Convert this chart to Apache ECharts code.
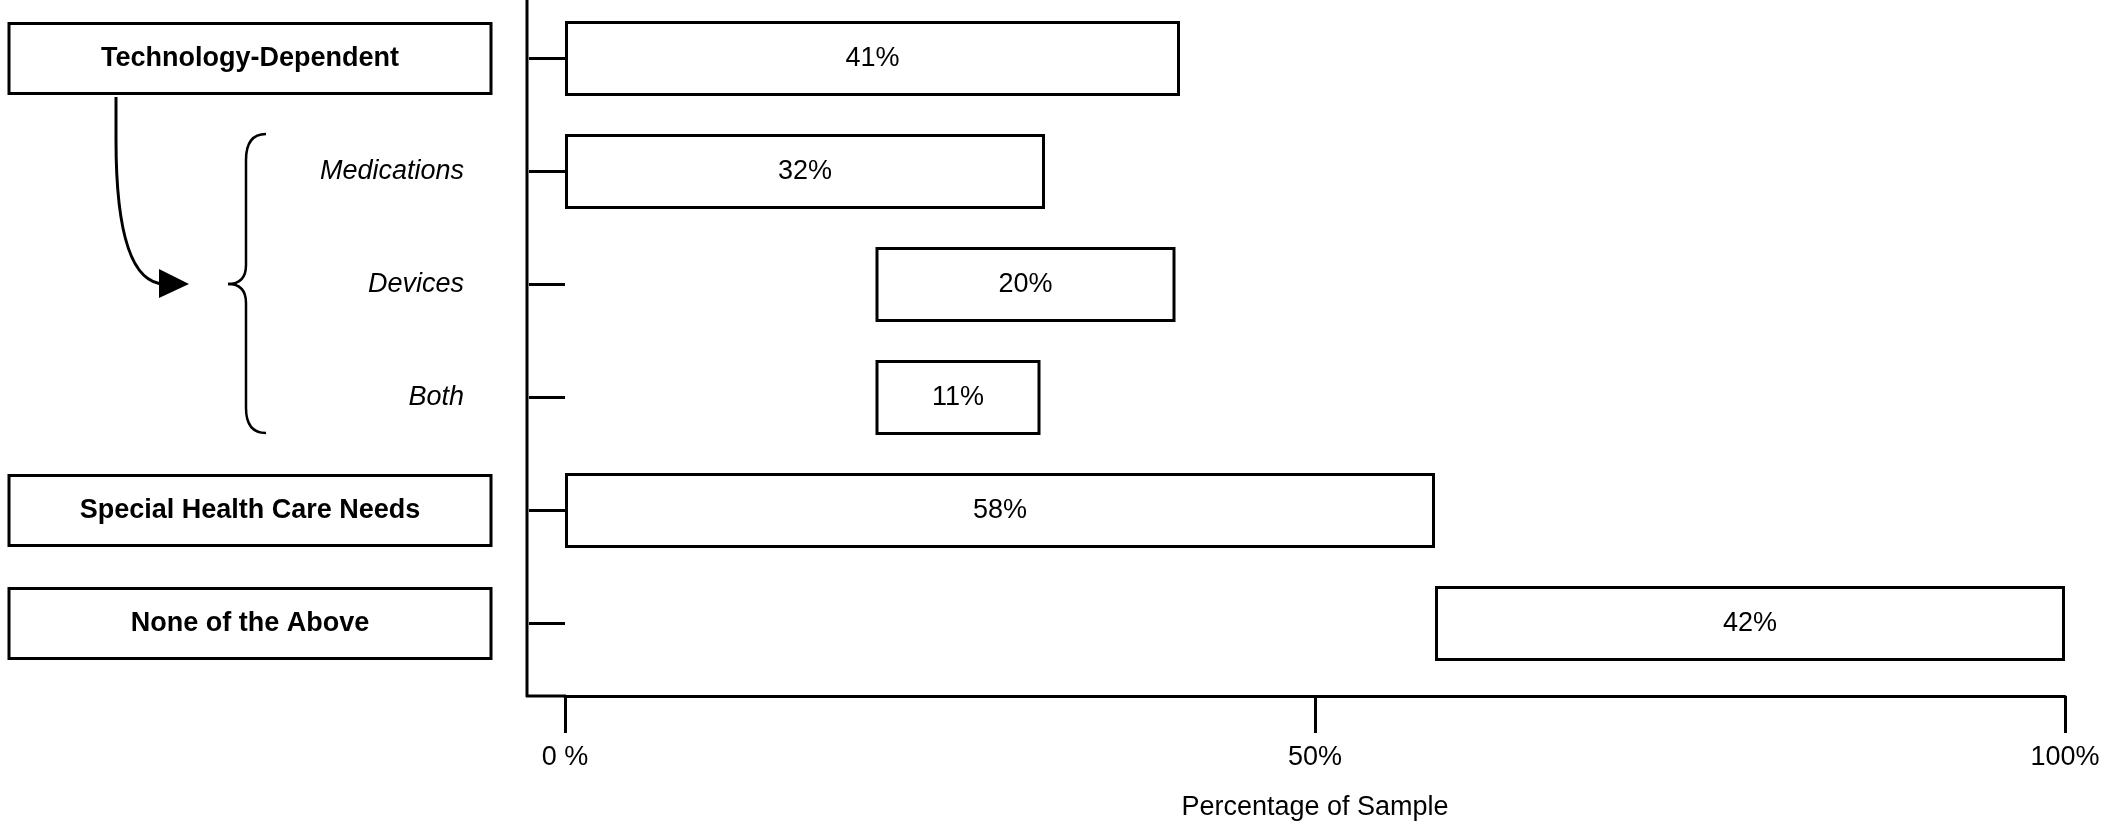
<!DOCTYPE html>
<html><head><meta charset="utf-8">
<script src="https://cdn.jsdelivr.net/npm/echarts@6/dist/echarts.min.js"></script>
<style>html,body{margin:0;padding:0;background:#fff}#c{width:2108px;height:828px}</style>
</head><body><div id="c"></div>
<script>
const categories = ['Technology-Dependent','Medications','Devices','Both','Special Health Care Needs','None of the Above'];
const boxed = [true,false,false,false,true,true];
const barStart = [0,0,20.7,20.7,0,58];
const barValues = [41,32,20,11,58,42];
const tickLabels = {0:'0 %',50:'50%',100:'100%'};
const F = '"Liberation Sans", Arial, sans-serif';
const chart = echarts.init(document.getElementById('c'));
const S = {stroke:'#000',lineWidth:2.5,fill:null};
chart.setOption({
  animation:false,
  grid:{left:565,right:43,top:2,bottom:148},
  xAxis:{type:'value',min:0,max:100,interval:50,offset:16,
    axisLine:{show:true,lineStyle:{color:'#000',width:3}},
    splitLine:{show:false},
    axisTick:{show:true,length:37,lineStyle:{color:'#000',width:3}},
    axisLabel:{formatter:v=>tickLabels[v],margin:48,color:'#000',fontSize:27,fontFamily:F},
    name:'Percentage of Sample',nameLocation:'middle',nameGap:98,
    nameTextStyle:{color:'#000',fontSize:27,fontFamily:F}},
  yAxis:{type:'category',inverse:true,data:categories,offset:38,
    axisLine:{show:false},
    axisTick:{show:true,alignWithLabel:true,interval:0,length:36,lineStyle:{color:'#000',width:3}},
    axisLabel:{interval:0,margin:36,
      formatter:(v,i)=>boxed[i]?'{b|'+v+'}':'{i|'+v+'}',
      rich:{
        b:{width:482,height:70,align:'center',fontWeight:'bold',fontSize:27,fontFamily:F,color:'#000',borderColor:'#000',borderWidth:3},
        i:{fontStyle:'italic',fontSize:27,fontFamily:F,color:'#000',padding:[0,27,0,0]}
      }}},
  series:[
    {type:'bar',stack:'s',data:barStart,itemStyle:{color:'transparent'},barWidth:75,silent:true},
    {type:'bar',stack:'s',data:barValues,barWidth:75,
      itemStyle:{color:'#fff',borderColor:'#000',borderWidth:3},
      label:{show:true,position:'inside',formatter:'{c}%',color:'#000',fontSize:27,fontFamily:F}}
  ],
  graphic:[
    {type:'line',shape:{x1:527,y1:0,x2:527,y2:697},style:{stroke:'#000',lineWidth:3}},
    {type:'line',shape:{x1:526,y1:696,x2:566,y2:696},style:{stroke:'#000',lineWidth:3}},
    {type:'bezierCurve',shape:{x1:266,y1:134,cpx1:246,cpy1:134,x2:246,y2:160},style:S},
    {type:'line',shape:{x1:246,y1:160,x2:246,y2:265},style:S},
    {type:'bezierCurve',shape:{x1:246,y1:265,cpx1:246,cpy1:284,x2:228,y2:284},style:S},
    {type:'bezierCurve',shape:{x1:228,y1:284,cpx1:246,cpy1:284,x2:246,y2:303},style:S},
    {type:'line',shape:{x1:246,y1:303,x2:246,y2:408},style:S},
    {type:'bezierCurve',shape:{x1:246,y1:408,cpx1:246,cpy1:433,x2:266,y2:433},style:S},
    {type:'line',shape:{x1:116,y1:97,x2:116,y2:140},style:{stroke:'#000',lineWidth:3}},
    {type:'bezierCurve',shape:{x1:116,y1:140,cpx1:116,cpy1:230,cpx2:130,cpy2:284,x2:165,y2:284},style:{stroke:'#000',lineWidth:3,fill:null}},
    {type:'polygon',shape:{points:[[159,269],[189,284],[159,298]]},style:{fill:'#000'}}
  ]
});
</script></body></html>
